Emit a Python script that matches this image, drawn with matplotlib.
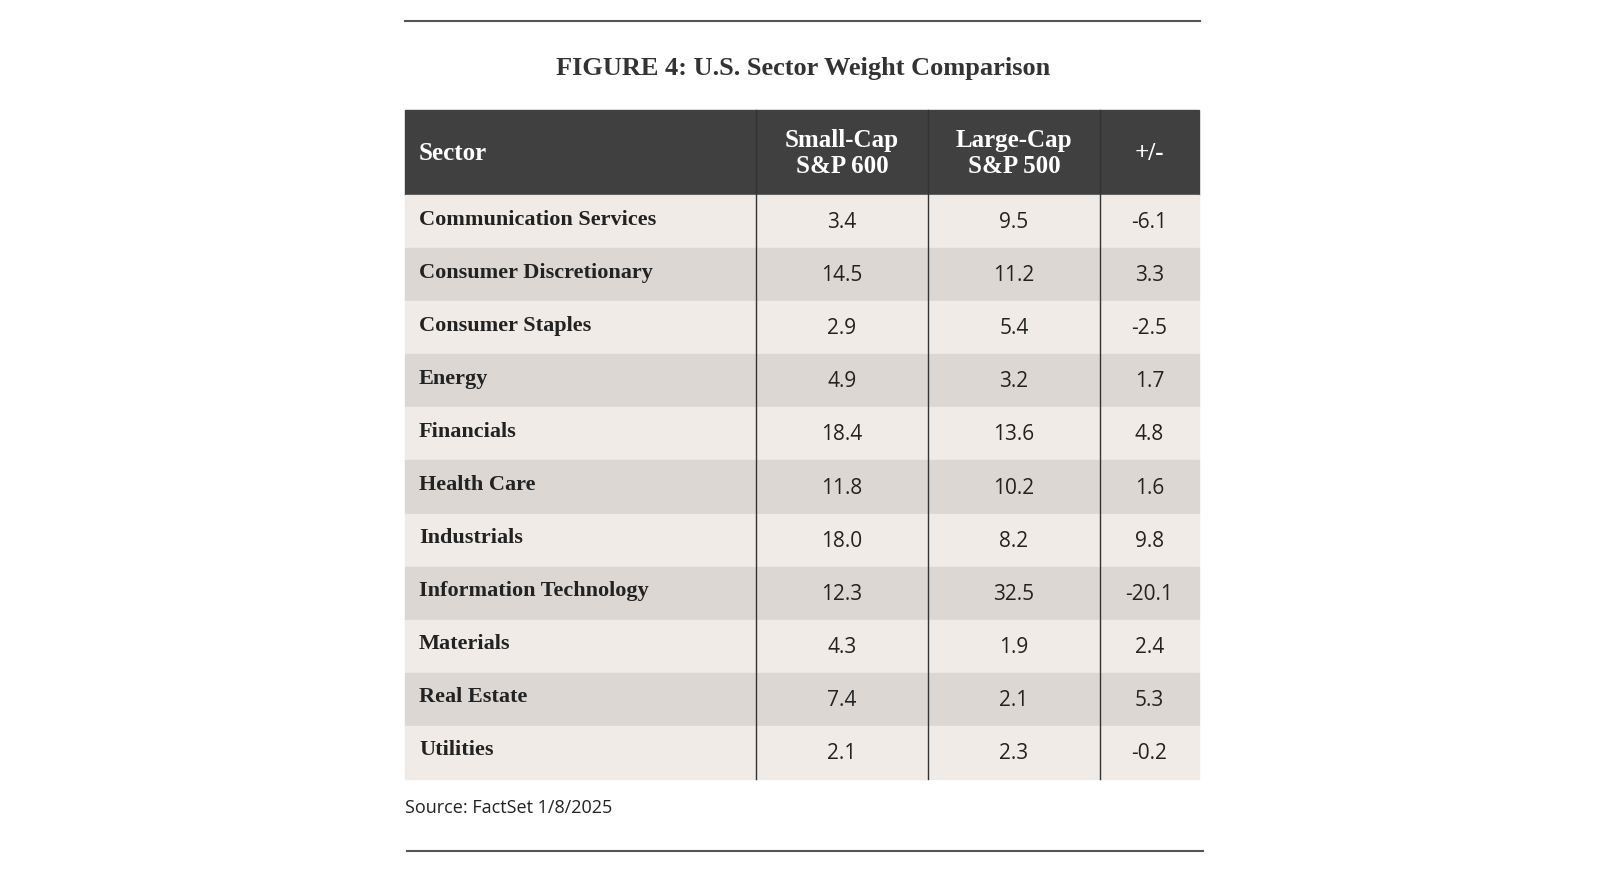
import matplotlib.pyplot as plt
from matplotlib.patches import Rectangle

title = "FIGURE 4: U.S. Sector Weight Comparison"
headers = ["Sector", "Small-Cap\nS&P 600", "Large-Cap\nS&P 500", "+/-"]
sectors = ["Communication Services", "Consumer Discretionary", "Consumer Staples",
           "Energy", "Financials", "Health Care", "Industrials",
           "Information Technology", "Materials", "Real Estate", "Utilities"]
small_cap = [3.4, 14.5, 2.9, 4.9, 18.4, 11.8, 18.0, 12.3, 4.3, 7.4, 2.1]
large_cap = [9.5, 11.2, 5.4, 3.2, 13.6, 10.2, 8.2, 32.5, 1.9, 2.1, 2.3]
diff = [-6.1, 3.3, -2.5, 1.7, 4.8, 1.6, 9.8, -20.1, 2.4, 5.3, -0.2]
source = "Source: FactSet 1/8/2025"

fig = plt.figure(figsize=(16, 8.7), dpi=100)
ax = fig.add_axes([0, 0, 1, 1])
ax.set_xlim(0, 1600)
ax.set_ylim(870, 0)
ax.axis('off')

serif = 'Liberation Serif'
sans = 'Open Sans'
left, right = 405, 1199
cols = [left, 756, 928, 1100, right]
head_top, head_bot = 111, 196
row_h = (780 - head_bot) / len(sectors)

ax.plot([405, 1200], [22, 22], color='#555555', lw=1.5)
ax.plot([407, 1203], [852, 852], color='#555555', lw=1.5)
ax.text(803, 68, title, ha='center', va='center', family=serif, weight='bold',
        fontsize=19, color='#333333')

ax.add_patch(Rectangle((left, head_top), right - left, head_bot - head_top, color='#404040'))
ax.text(cols[0] + 14, (head_top + head_bot) / 2, headers[0], ha='left', va='center',
        family=serif, weight='bold', fontsize=18, color='white')
for i in range(1, 4):
    ax.text((cols[i] + cols[i + 1]) / 2, (head_top + head_bot) / 2, headers[i], ha='center',
            va='center', family=serif, weight='bold', fontsize=18, color='white',
            linespacing=1.15)

for r, name in enumerate(sectors):
    y0 = head_bot + r * row_h
    ax.add_patch(Rectangle((left, y0), right - left, row_h,
                           color='#f0ebe6' if r % 2 == 0 else '#dcd7d3'))
    yc = y0 + row_h / 2
    ax.text(cols[0] + 14, yc - 3, name, ha='left', va='center', family=serif,
            weight='bold', fontsize=16, color='#222222')
    for i, v in enumerate([small_cap[r], large_cap[r], diff[r]]):
        ax.text((cols[i + 1] + cols[i + 2]) / 2, yc, f"{v:.1f}", ha='center', va='center',
                family=sans, fontsize=15, color='#222222')

for x in cols[1:4]:
    ax.plot([x, x], [head_top, 780], color='#333333', lw=1)

ax.text(405, 808, source, ha='left', va='center', family=sans, fontsize=13, color='#222222')

fig.savefig('out.png')
